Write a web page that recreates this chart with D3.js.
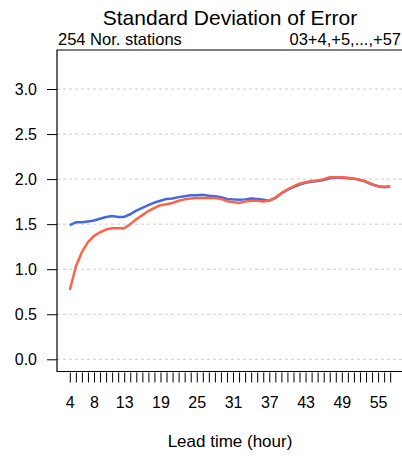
<!DOCTYPE html>
<html>
<head>
<meta charset="utf-8">
<script src="https://cdn.jsdelivr.net/npm/d3@7"></script>
<style>
  html, body { margin: 0; padding: 0; background: #fff; }
  svg { display: block; font-family: "Liberation Sans", Arial, Helvetica, sans-serif; }
</style>
</head>
<body>
<svg id="chart" width="402" height="459"></svg>
<script>
// ---- data ----
const hours = d3.range(4, 58); // 4..57
const tickLabels = [4, 8, 13, 19, 25, 31, 37, 43, 49, 55];
const yTicks = [0, 0.5, 1.0, 1.5, 2.0, 2.5, 3.0];
const blueValues = [1.49, 1.52, 1.52, 1.53, 1.54, 1.56, 1.58, 1.59, 1.58, 1.58,
  1.61, 1.65, 1.68, 1.71, 1.74, 1.76, 1.78, 1.785, 1.80, 1.81,
  1.82, 1.82, 1.825, 1.815, 1.81, 1.80, 1.78, 1.775, 1.77, 1.775,
  1.785, 1.78, 1.77, 1.76, 1.79, 1.84, 1.88, 1.91, 1.94, 1.96,
  1.97, 1.98, 1.99, 2.01, 2.015, 2.015, 2.01, 2.005, 1.99, 1.97,
  1.94, 1.92, 1.91, 1.915];
const redValues = [0.77, 1.03, 1.19, 1.30, 1.37, 1.41, 1.44, 1.455, 1.455, 1.455,
  1.50, 1.555, 1.60, 1.645, 1.68, 1.71, 1.72, 1.735, 1.76, 1.775,
  1.785, 1.79, 1.79, 1.79, 1.79, 1.78, 1.755, 1.745, 1.735, 1.75,
  1.76, 1.76, 1.75, 1.76, 1.795, 1.845, 1.885, 1.92, 1.95, 1.965,
  1.98, 1.985, 2.00, 2.02, 2.02, 2.02, 2.015, 2.005, 1.99, 1.975,
  1.945, 1.92, 1.915, 1.92];
const titleText = "Standard Deviation of Error";
const subLeft = "254 Nor. stations";
const subRight = "03+4,+5,...,+57";
const xLabel = "Lead time (hour)";

// ---- layout ----
const svg = d3.select("#chart");
const plotLeft = 57, plotRight = 403, plotTop = 50, plotBottom = 371.5;
const x = d3.scaleLinear().domain([1.88, 59.12]).range([plotLeft, plotRight]);
const y = d3.scaleLinear().domain([0, 3]).range([359.3, 89]);

// gridlines
svg.append("g").selectAll("line").data(yTicks).join("line")
  .attr("x1", plotLeft).attr("x2", 402)
  .attr("y1", d => y(d)).attr("y2", d => y(d))
  .attr("stroke", "#cccccc").attr("stroke-width", 1)
  .attr("stroke-dasharray", "3,3");

// y axis
const yAxis = d3.axisLeft(y).tickValues(yTicks).tickSize(10).tickPadding(10)
  .tickFormat(d3.format(".1f"));
const gy = svg.append("g").attr("transform", `translate(${plotLeft},0)`).call(yAxis);
gy.select(".domain").remove();
gy.selectAll("text").attr("font-size", 16).attr("fill", "#000")
  .attr("font-family", "Liberation Sans, Arial, sans-serif");
gy.selectAll("line").attr("stroke", "#000");

// x axis
const xAxis = d3.axisBottom(x).tickValues(hours).tickSize(10).tickPadding(14)
  .tickFormat(d => tickLabels.includes(d) ? d : "");
const gx = svg.append("g").attr("transform", `translate(0,${plotBottom + 1})`).call(xAxis);
gx.select(".domain").remove();
gx.selectAll("text").attr("font-size", 16).attr("fill", "#000")
  .attr("font-family", "Liberation Sans, Arial, sans-serif");
gx.selectAll("line").attr("stroke", "#000");

// frame (open on the right)
svg.append("path")
  .attr("d", `M${402},${plotTop}H${plotLeft}V${plotBottom}H${402}`)
  .attr("fill", "none").attr("stroke", "#000").attr("stroke-width", 1.2);

// lines
const line = d3.line().x((d, i) => x(hours[i])).y(d => y(d)).curve(d3.curveLinear);
svg.append("path").datum(blueValues).attr("d", line)
  .attr("fill", "none").attr("stroke", "#4169E1").attr("stroke-width", 2.5)
  .attr("stroke-linejoin", "round");
svg.append("path").datum(redValues).attr("d", line)
  .attr("fill", "none").attr("stroke", "#FF6347").attr("stroke-width", 2.5)
  .attr("stroke-linejoin", "round");

// texts
svg.append("text").attr("x", 230).attr("y", 25).attr("text-anchor", "middle")
  .attr("font-size", 21).text(titleText);
svg.append("text").attr("x", 58).attr("y", 45).attr("font-size", 16.5).text(subLeft);
svg.append("text").attr("x", 401).attr("y", 45).attr("text-anchor", "end")
  .attr("font-size", 16.5).text(subRight);
svg.append("text").attr("x", 230).attr("y", 447).attr("text-anchor", "middle")
  .attr("font-size", 17).text(xLabel);
</script>
</body>
</html>
